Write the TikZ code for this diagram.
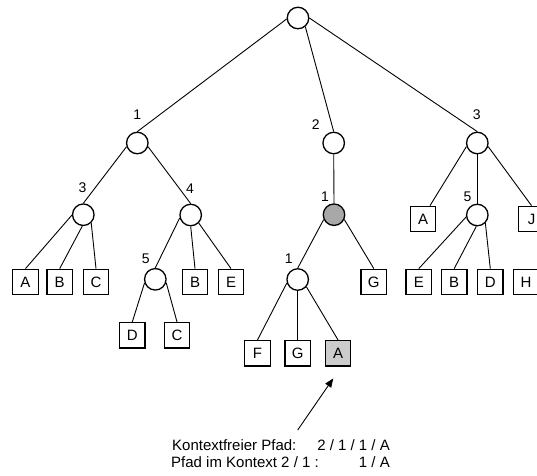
\documentclass[tikz,border=0pt]{standalone}
\usepackage{fontspec}
\setmainfont{Liberation Sans}
\usetikzlibrary{arrows.meta}
\definecolor{nodegray}{HTML}{A8A8A8}
\definecolor{leafgray}{HTML}{CCCCCC}
\tikzset{
  inner/.style={circle, draw, line width=1.3pt, minimum size=21.5pt, inner sep=0pt, fill=white},
  leaf/.style={rectangle, draw, line width=1.3pt, minimum size=25.5pt, inner sep=0pt,
               fill=white, font=\fontsize{15}{15}\selectfont},
  num/.style={inner sep=0pt, font=\fontsize{14}{14}\selectfont},
  edge/.style={line width=0.9pt},
  note/.style={inner sep=0pt, font=\fontsize{15}{15}\selectfont},
  pointer/.style={line width=0.9pt, -{Triangle[length=9pt,width=7pt]}},
}
\begin{document}
\begin{tikzpicture}[x=1pt,y=-1pt]
\clip (0,0) rectangle (537,475);
\fill[white] (0,0) rectangle (537,475);

% inner nodes
\node[inner] (r)  at (298,18) {};
\node[inner] (a1) at (137.3,143) {};
\node[inner] (a2) at (333.7,143) {};
\node[inner] (a3) at (477.3,143) {};
\node[inner] (b3) at (83.3,214.7) {};
\node[inner] (b4) at (190.7,215) {};
\node[inner, fill=nodegray] (g) at (334,214.7) {};
\node[inner] (c5) at (477.3,215) {};
\node[inner] (d5) at (155.3,279.3) {};
\node[inner] (e1) at (297.7,279.5) {};

% leaves
\node[leaf] (ra) at (423,219) {A};
\node[leaf] (rj) at (531.5,219) {J};
\node[leaf] (la) at (25.5,282) {A};
\node[leaf] (lb) at (59.7,282) {B};
\node[leaf] (lc) at (96,282) {C};
\node[leaf] (mb) at (195,282) {B};
\node[leaf] (me) at (231,282) {E};
\node[leaf] (mg) at (373.8,282) {G};
\node[leaf] (re) at (418.8,282) {E};
\node[leaf] (rb) at (454.2,282) {B};
\node[leaf] (rd) at (490.3,282) {D};
\node[leaf] (rh) at (526,282) {H};
\node[leaf] (dd) at (132.3,335.3) {D};
\node[leaf] (dc) at (177,335.3) {C};
\node[leaf] (ff) at (257.5,353.3) {F};
\node[leaf] (fg) at (297.7,353.3) {G};
\node[leaf, fill=leafgray] (fa) at (338,353.3) {A};

% edges
\draw[edge] (r.185) -- (a1.north);
\draw[edge] (r.-50) -- (a2.north);
\draw[edge] (r.0) -- (a3.north);
\draw[edge] (a1.199) -- (b3.north);
\draw[edge] (a1.-19) -- (b4.north);
\draw[edge] (a2.south) -- (g.north);
\draw[edge] (a3.198) -- ([xshift=7pt]ra.north);
\draw[edge] (a3.south) -- (c5.north);
\draw[edge] (a3.-18) -- (rj.north);
\draw[edge] (b3.182) -- (la.north);
\draw[edge] (b3.-95) -- (lb.north);
\draw[edge] (b3.-46) -- (lc.north);
\draw[edge] (b4.195) -- (d5.north);
\draw[edge] (b4.-90) -- (mb.north);
\draw[edge] (b4.-45) -- (me.north);
\draw[edge] (g.205) -- (e1.north);
\draw[edge] (g.-25) -- (mg.north);
\draw[edge] (c5.190) -- (re.north);
\draw[edge] (c5.-95) -- (rb.north);
\draw[edge] (c5.-45) -- (rd.north);
\draw[edge] (d5.199) -- (dd.north);
\draw[edge] (d5.-17) -- (dc.north);
\draw[edge] (e1.198) -- (ff.north);
\draw[edge] (e1.south) -- (fg.north);
\draw[edge] (e1.-40) -- (fa.north);

% child numbers
\node[num] (n1) at (137.3,115) {1};
\node[num] (n2) at (315.7,124.5) {2};
\node[num] (n3) at (476.7,115) {3};
\node[num] (n4) at (82.5,187.5) {3};
\node[num] (n5) at (190,188.3) {4};
\node[num] (n6) at (325,196.7) {1};
\node[num] (n7) at (467.5,196.7) {5};
\node[num] (n8) at (145.7,259) {5};
\node[num] (n9) at (288.7,258.5) {1};

% path description
\node[note, anchor=base west] (t1) at (172,450) {Kontextfreier Pfad:};
\node[note, anchor=base east] (t2) at (390,450) {2 / 1 / 1 / A};
\node[note, anchor=base west] (t3) at (171,467) {Pfad im Kontext 2 / 1 :};
\node[note, anchor=base east] (t4) at (390,467) {1 / A};

\coordinate (tail) at (297.7,430);
\draw[pointer] (tail) -- ([xshift=-4.7pt,yshift=-11.6pt]fa.south);
\end{tikzpicture}
\end{document}
